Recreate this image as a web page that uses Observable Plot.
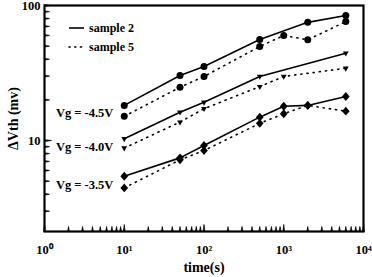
<!DOCTYPE html>
<html><head><meta charset="utf-8">
<script src="https://cdn.jsdelivr.net/npm/d3@7"></script>
<script src="https://cdn.jsdelivr.net/npm/@observablehq/plot@0.6"></script>
<style>
body{margin:0;background:#fff;}
#wrap{position:relative;width:372px;height:277px;font-family:"Liberation Serif",serif;font-weight:bold;}
.leg{position:absolute;left:68px;font-size:12px;line-height:12px;display:flex;align-items:center;}
.leg svg{margin-right:4px;}
</style></head>
<body><div id="wrap"></div>
<script>
// Data
const t2_45 = [10, 50, 100, 500, 2000, 6000];
const v2_45 = [18.2, 30.3, 35.3, 56, 75, 84.3];
const t5_45 = [10, 50, 100, 500, 1000, 2000, 6000];
const v5_45 = [15.1, 24.8, 29.8, 49.7, 60, 55.7, 76];
const t2_40 = [10, 50, 100, 500, 6000];
const v2_40 = [10.3, 16.2, 19.2, 29.8, 44.3];
const t5_40 = [10, 50, 100, 500, 1000, 6000];
const v5_40 = [8.8, 13.7, 17.2, 25.1, 29.8, 34.3];
const t2_35 = [10, 50, 100, 500, 1000, 2000, 6000];
const v2_35 = [5.44, 7.44, 9.2, 14.9, 17.95, 18.2, 21.2];
const t5_35 = [10, 50, 100, 500, 1000, 2000, 6000];
const v5_35 = [4.46, 7.2, 8.43, 13.4, 15.8, 18.2, 16.5];
const vgLabels = ["Vg = -4.5V", "Vg = -4.0V", "Vg = -3.5V"];
const vgLabelT = [7.3, 7.3, 7.3];
const vgLabelV = [15.9, 8.9, 4.65];
const legendLabels = ["sample 2", "sample 5"];
const xMajor = [1, 10, 100, 1000, 10000];
const yMajor = [10, 100];

const triDown = {draw(ctx, size){const s=Math.sqrt(size*4/Math.sqrt(3))*0.62; const h=s*Math.sqrt(3)/2; ctx.moveTo(-s/2,-h/3);ctx.lineTo(s/2,-h/3);ctx.lineTo(0,2*h/3);ctx.closePath();}};
const diam = {draw(ctx, size){const a=Math.sqrt(size)*0.62, b=a*1.15; ctx.moveTo(0,-b);ctx.lineTo(a,0);ctx.lineTo(0,b);ctx.lineTo(-a,0);ctx.closePath();}};

const series = [
  {t:t2_45,v:v2_45,sample:2,sym:"circle"},
  {t:t5_45,v:v5_45,sample:5,sym:"circle"},
  {t:t2_40,v:v2_40,sample:2,sym:triDown},
  {t:t5_40,v:v5_40,sample:5,sym:triDown},
  {t:t2_35,v:v2_35,sample:2,sym:diam},
  {t:t5_35,v:v5_35,sample:5,sym:diam},
];
const sup = {"0":"\u2070","1":"\u00b9","2":"\u00b2","3":"\u00b3","4":"\u2074"};
const xMinor = []; for (const d of [1,10,100,1000]) for (let k=2;k<10;k++) xMinor.push(k*d);
const yMinor = []; for (const d of [1,10]) for (let k=2;k<10;k++) if (k*d>2.15) yMinor.push(k*d);

const marks = [];
for (const s of series) {
  const rows = s.t.map((t,i)=>({t, v:s.v[i]}));
  marks.push(Plot.line(rows, {x:"t", y:"v", stroke:"black", strokeWidth:1.6,
    strokeDasharray: s.sample===2?null:"1.2,5", strokeLinecap:"round"}));
  marks.push(Plot.dot(rows, {x:"t", y:"v", symbol: ()=>s.sym, fill:"black", stroke:"none", r:3.5}));
}
const labRows = vgLabels.map((l,i)=>({l, t:vgLabelT[i], v:vgLabelV[i]}));
marks.push(Plot.text(labRows, {x:"t", y:"v", text:"l", textAnchor:"end", fontSize:12.5, fontWeight:"bold", fill:"black"}));

const tickStyle = {shape: "spike", r: 0.9, fill: "black", stroke: "black", strokeWidth: 0.7, anchor: "start"};
const chart = Plot.plot({
  width: 372, height: 277,
  marginLeft: 44, marginRight: 9, marginTop: 5, marginBottom: 46,
  style: {fontFamily: "'Liberation Serif', serif", fontWeight: "bold", fontSize: "12px", color: "black", background: "white"},
  x: {type: "log", domain: [1, 10000]},
  y: {type: "log", domain: [2.12, 100]},
  marks: [
    Plot.vector(xMinor, {x: d => d, frameAnchor: "bottom", rotate: 0, length: 5, ...tickStyle}),
    Plot.vector(xMajor, {x: d => d, frameAnchor: "bottom", rotate: 0, length: 7, ...tickStyle}),
    Plot.vector(yMinor, {y: d => d, frameAnchor: "left", rotate: 90, length: 5, ...tickStyle}),
    Plot.vector(yMajor, {y: d => d, frameAnchor: "left", rotate: 90, length: 7, ...tickStyle}),
    Plot.axisX({ticks: xMajor, tickSize: 0, tickPadding: 14,
      tickFormat: d => "10" + sup[String(Math.round(Math.log10(d)))], fontSize: 12.5, fontWeight: "bold",
      label: "time(s)", labelAnchor: "center", labelArrow: "none", labelOffset: 40}),
    Plot.axisY({ticks: yMajor, tickSize: 0, tickPadding: 4, tickFormat: d => String(d),
      fontSize: 12.5, fontWeight: "bold",
      label: "\u0394Vth (mv)", labelAnchor: "center", labelArrow: "none", labelOffset: 36}),
    Plot.frame({stroke: "black", strokeWidth: 2.2}),
    ...marks
  ]
});
const wrap = document.getElementById("wrap");
wrap.appendChild(chart);
chart.querySelectorAll('[aria-label$="axis label"] text').forEach(t => t.setAttribute("font-size", "14"));

legendLabels.forEach((lab, i) => {
  const d = document.createElement("div");
  d.className = "leg";
  d.style.top = (22 + i*19) + "px";
  const dash = i === 0 ? "" : 'stroke-dasharray="1.2,4.5" stroke-linecap="round"';
  d.innerHTML = `<svg width="17" height="6"><line x1="1" y1="3" x2="16" y2="3" stroke="black" stroke-width="1.6" ${dash}/></svg><span>${lab}</span>`;
  wrap.appendChild(d);
});
</script></body></html>
